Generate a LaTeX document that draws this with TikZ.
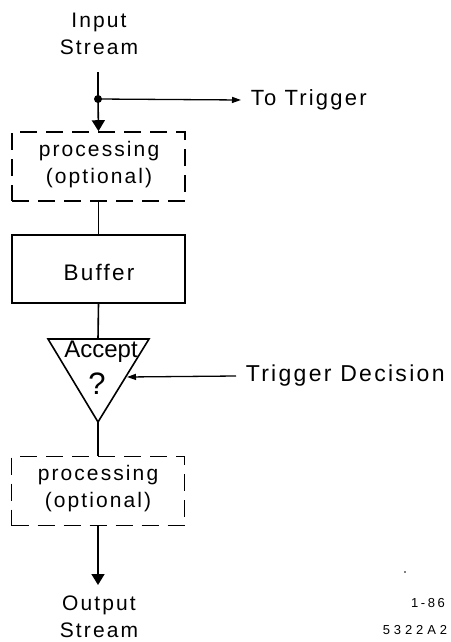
\documentclass[tikz,border=0pt]{standalone}
\usepackage{fontspec}
\setmainfont[LetterSpace=10]{Liberation Sans}
\newfontfamily\plainfont{Liberation Sans}
\newfontfamily\widefont[LetterSpace=30]{Liberation Sans}
\newfontfamily\midfont[LetterSpace=20]{Liberation Sans}
\usetikzlibrary{arrows.meta}
\begin{document}
\begin{tikzpicture}[x=1pt,y=-1pt,
  line width=1.6pt,
  lbl/.style={font=\fontsize{21}{27}\selectfont, align=center, inner sep=0pt},
  big/.style={font=\fontsize{22.5}{27}\selectfont, align=center, inner sep=0pt},
  small/.style={font=\widefont\fontsize{13}{16}\selectfont, inner sep=0pt},
  dbox/.style={draw, dash pattern=on 17pt off 9pt, minimum width=173pt, minimum height=69pt, inner sep=0pt},
  sbox/.style={draw, minimum width=173pt, minimum height=68pt, inner sep=0pt},
  arr/.style={-{Triangle[length=11pt,width=13pt]}},
  sarr/.style={-{Triangle[length=9pt,width=6pt]}, line width=1.3pt}]
\useasboundingbox (0,0) rectangle (450,642);
\node[lbl] (in) at (99,34) {Input\\Stream};
\coordinate (intop) at (98,72);
\node[dbox] (p1) at (98.5,166.5) {};
\node[lbl] at (99,165) {processing\\(optional)};
\coordinate (split) at (98,99);
\fill (split) circle (4pt);
\draw (intop) -- (split);
\draw[arr] (split) -- (p1.north);
\node[big, font=\fontsize{22}{27}\selectfont, anchor=west] (tt) at (250,100) {To Trigger};
\draw[sarr] (split) -- (tt.west -| 241,0);
\node[sbox] (buf) at (98.5,269) {};
\node[big] at (99,272) {Buffer};
\draw (p1.south) -- (buf.north);
\coordinate (tl) at (48,339);
\coordinate (tr) at (149,339);
\coordinate (apex) at (98,422);
\draw[line join=miter] (tl) -- (tr) -- (apex) -- cycle;
\node[lbl, font=\plainfont\fontsize{24}{27}\selectfont] (acc) at (101,352) {Accept};
\node[lbl, font=\plainfont\fontsize{31}{27}\selectfont] (q) at (97,384) {?};
\draw (buf.south) -- (98,339);
\node[big, font=\fontsize{23}{27}\selectfont, anchor=west] (td) at (245,376) {Trigger Decision};
\coordinate (tip) at (127,377);
\draw[sarr] (td.west -| 236,0) -- (tip);
\node[dbox] (p2) at (98,491) {};
\node[lbl] at (98,489) {processing\\(optional)};
\draw (apex) -- (p2.north);
\node[lbl] (out) at (99,617) {Output\\Stream};
\coordinate (outtip) at (98,585);
\draw[arr] (p2.south) -- (outtip);
\node[small, font=\midfont\fontsize{13}{16}\selectfont] (d1) at (428,603) {1-86};
\node[small] (d2) at (415,630) {5322A2};
\fill (405,572) circle (0.8pt);
\end{tikzpicture}
\end{document}
